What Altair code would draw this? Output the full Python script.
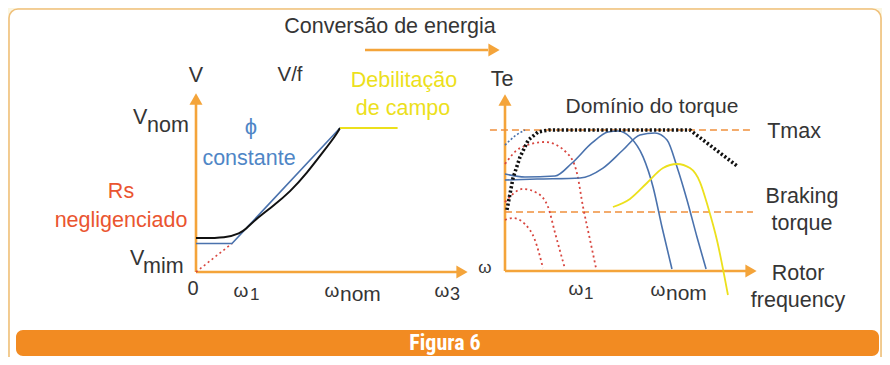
import altair as alt
import pandas as pd

# ---------------- data ----------------
# Left panel: V/f curve, units  w = omega/omega_nom,  v = V/V_nom
BLACK_W = [0.0, 0.215, 0.306, 0.34, 0.424, 0.535, 0.653, 0.771, 0.882, 0.965, 1.0]
BLACK_V = [0.236, 0.236, 0.271, 0.292, 0.375, 0.458, 0.556, 0.688, 0.833, 0.94, 1.0]
BLUE_W = [0.0, 0.25, 1.0]
BLUE_V = [0.198, 0.198, 1.0]
RS_W = [0.0, 0.25]
RS_V = [0.0, 0.198]
FW_W = [1.0, 1.40]
FW_V = [1.0, 1.0]

# Right panel: torque curves, units  w = omega/omega_nom,  t = Te/Tmax
DOM_W = [0.011, 0.046, 0.086, 0.133, 0.189, 0.25, 1.057, 1.326]
DOM_T = [0.433, 0.660, 0.809, 0.929, 0.986, 1.0, 1.0, 0.745]
BDOT_W = [0.0, 0.06, 0.114]
BDOT_T = [0.893, 0.96, 1.0]
RED1_W = [0.0, 0.086, 0.229, 0.354, 0.411, 0.446, 0.486, 0.52]
RED1_T = [0.759, 0.872, 0.915, 0.837, 0.695, 0.454, 0.22, 0.021]
RED2_W = [0.0, 0.103, 0.183, 0.246, 0.286, 0.343]
RED2_T = [0.489, 0.582, 0.553, 0.454, 0.27, 0.014]
RED3_W = [0.0, 0.046, 0.114, 0.171, 0.217]
RED3_T = [0.362, 0.376, 0.333, 0.22, 0.021]
BLUE1_W = [0.0, 0.114, 0.286, 0.383, 0.497, 0.589, 0.646, 0.714, 0.789, 0.846, 0.897, 0.954]
BLUE1_T = [0.688, 0.667, 0.674, 0.766, 0.908, 0.986, 0.993, 0.95, 0.809, 0.596, 0.312, 0.014]
BLUE2_W = [0.0, 0.183, 0.429, 0.56, 0.674, 0.771, 0.857, 0.926, 0.983, 1.04, 1.097, 1.149]
BLUE2_T = [0.645, 0.652, 0.66, 0.73, 0.858, 0.965, 0.979, 0.929, 0.738, 0.504, 0.241, 0.014]
YEL_W = [0.617, 0.714, 0.811, 0.903, 0.983, 1.057, 1.114, 1.16, 1.211, 1.274]
YEL_T = [0.454, 0.511, 0.624, 0.73, 0.759, 0.73, 0.631, 0.454, 0.22, -0.17]
TMAX_W = [-0.086, 1.417]
TMAX_T = [1.0, 1.0]
BRAKE_W = [0.0, 1.417]
BRAKE_T = [0.418, 0.418]

# ---------------- layout ----------------
def left_px(w, v):
    return [196 + 144 * a for a in w], [272 - 144 * b for b in v]


def right_px(w, t):
    return [505 + 175 * a for a in w], [271 - 141 * b for b in t]


X = alt.X("x:Q", scale=alt.Scale(domain=[8, 882], nice=False, zero=False), axis=None)
Y = alt.Y("y:Q", scale=alt.Scale(domain=[8, 357], nice=False, zero=False, reverse=True), axis=None)

DARK = "#353535"
BLUE_TXT = "#4f86c6"
BLUE_LN = "#4a72ad"
RED_TXT = "#ea5530"
RED_DOT = "#d8463f"
YELLOW = "#ece01c"
ORANGE = "#f4a43a"
ORANGE_D = "#f0903c"
FONT = "Liberation Sans"


def line(xs, ys, color, width, dash=None, interp="linear"):
    df = pd.DataFrame({"x": xs, "y": ys, "i": range(len(xs))})
    kw = dict(color=color, strokeWidth=width, interpolate=interp)
    if dash:
        kw["strokeDash"] = dash
    return alt.Chart(df).mark_line(**kw).encode(x=X, y=Y, order="i:Q")


layers = []

# frame box and caption bar
box = pd.DataFrame({"x": [9], "x2": [881], "y": [9], "y2": [420]})
layers.append(alt.Chart(box).mark_rect(fill="white", stroke="#efc07a", strokeWidth=1.6,
                                        cornerRadius=9).encode(x=X, x2="x2:Q", y=Y, y2="y2:Q"))
bar = pd.DataFrame({"x": [16], "x2": [879], "y": [330], "y2": [356]})
layers.append(alt.Chart(bar).mark_rect(fill="#f28b22", cornerRadius=7).encode(
    x=X, x2="x2:Q", y=Y, y2="y2:Q"))

# axes and arrows (rules)
rules = pd.DataFrame({
    "x": [196, 196, 505, 505, 365],
    "x2": [196, 458, 505, 748, 488],
    "y": [272, 272, 271, 271, 50],
    "y2": [102, 272, 102, 271, 50],
})
layers.append(alt.Chart(rules).mark_rule(color=ORANGE, strokeWidth=2.6).encode(
    x=X, x2="x2:Q", y=Y, y2="y2:Q"))
heads_up = pd.DataFrame({"x": [196, 505], "y": [99, 100]})
layers.append(alt.Chart(heads_up).mark_point(shape="triangle-up", filled=True, size=170,
                                             color=ORANGE, opacity=1).encode(x=X, y=Y))
heads_right = pd.DataFrame({"x": [462, 751, 494], "y": [272, 271, 50]})
layers.append(alt.Chart(heads_right).mark_point(shape="triangle-right", filled=True, size=170,
                                                color=ORANGE, opacity=1).encode(x=X, y=Y))

# left panel curves
layers.append(line(*left_px(RS_W, RS_V), RED_DOT, 1.6, [2, 3]))
layers.append(line(*left_px(BLUE_W, BLUE_V), BLUE_LN, 1.6))
layers.append(line(*left_px(BLACK_W, BLACK_V), "#111111", 2.0, interp="basis"))
layers.append(line(*left_px(FW_W, FW_V), YELLOW, 2.0))

# right panel lines
layers.append(line(*right_px(TMAX_W, TMAX_T), ORANGE_D, 1.6, [7, 4]))
layers.append(line(*right_px(BRAKE_W, BRAKE_T), ORANGE_D, 1.6, [7, 4]))
for w, t in [(RED1_W, RED1_T), (RED2_W, RED2_T), (RED3_W, RED3_T)]:
    layers.append(line(*right_px(w, t), RED_DOT, 1.8, [2, 3], interp="monotone"))
layers.append(line(*right_px(BDOT_W, BDOT_T), BLUE_LN, 1.6, [2, 2], interp="monotone"))
layers.append(line(*right_px(BLUE1_W, BLUE1_T), BLUE_LN, 1.6, interp="monotone"))
layers.append(line(*right_px(BLUE2_W, BLUE2_T), BLUE_LN, 1.6, interp="monotone"))
layers.append(line(*right_px(YEL_W, YEL_T), YELLOW, 1.8, interp="monotone"))
layers.append(line(*right_px(DOM_W, DOM_T), "#111111", 3.6, [2.2, 2.2]))

# texts: (text, x, y_baseline, size, color, align, weight)
TEXTS = [
    ("Conversão de energia", 390, 33, 21.5, DARK, "center", "normal"),
    ("V", 196, 82, 21.5, DARK, "center", "normal"),
    ("V/f", 290, 81, 20.5, DARK, "center", "normal"),
    ("Debilitação", 404, 87, 21.5, YELLOW, "center", "normal"),
    ("de campo", 403, 115, 21.5, YELLOW, "center", "normal"),
    ("V", 133, 124, 21.5, DARK, "left", "normal"),
    ("nom", 147, 132, 21.5, DARK, "left", "normal"),
    ("ϕ", 251, 134, 22, BLUE_TXT, "center", "normal"),
    ("constante", 249, 165, 21.5, BLUE_TXT, "center", "normal"),
    ("Rs", 121, 198, 21.5, RED_TXT, "center", "normal"),
    ("negligenciado", 121, 227, 21.5, RED_TXT, "center", "normal"),
    ("V", 130, 265, 21.5, DARK, "left", "normal"),
    ("mim", 143, 273, 21.5, DARK, "left", "normal"),
    ("0", 193, 295, 20, DARK, "center", "normal"),
    ("ω", 241, 297, 19, DARK, "center", "normal"),
    ("1", 250, 300, 17, DARK, "left", "normal"),
    ("ω", 332, 297, 19, DARK, "center", "normal"),
    ("nom", 340, 301, 21, DARK, "left", "normal"),
    ("ω", 442, 297, 19, DARK, "center", "normal"),
    ("3", 450, 300, 18, DARK, "left", "normal"),
    ("ω", 485, 273, 17, DARK, "center", "normal"),
    ("Te", 502, 86, 21.5, DARK, "center", "normal"),
    ("Domínio do torque", 652, 113, 21, DARK, "center", "normal"),
    ("Tmax", 794, 138, 21.5, DARK, "center", "normal"),
    ("Braking", 802, 203, 21.5, DARK, "center", "normal"),
    ("torque", 802, 230, 21.5, DARK, "center", "normal"),
    ("Rotor", 798, 280, 21.5, DARK, "center", "normal"),
    ("frequency", 798, 307, 21.5, DARK, "center", "normal"),
    ("ω", 576, 295, 19, DARK, "center", "normal"),
    ("1", 584, 299, 17, DARK, "left", "normal"),
    ("ω", 658, 296, 19, DARK, "center", "normal"),
    ("nom", 666, 300, 21, DARK, "left", "normal"),
    ("Figura 6", 445, 350, 22, "#ffffff", "center", "bold"),
]
tdf = pd.DataFrame(TEXTS, columns=["text", "x", "y", "size", "color", "align", "weight"])
for (al, wt), g in tdf.groupby(["align", "weight"]):
    fnt = "Liberation Sans Narrow, Roboto Condensed, Liberation Sans" if wt == "bold" else FONT
    layers.append(alt.Chart(g).mark_text(align=al, baseline="alphabetic", fontWeight=wt,
                                         font=fnt).encode(
        x=X, y=Y, text="text:N",
        size=alt.Size("size:Q", scale=None, legend=None),
        color=alt.Color("color:N", scale=None, legend=None)))

chart = alt.layer(*layers).properties(
    width=874, height=349, padding=0,
    autosize=alt.AutoSizeParams(type="none"),
    background="#fbf6e2",
).configure_view(stroke=None)

chart.save("out.html", embed_options={"renderer": "svg", "actions": False})
